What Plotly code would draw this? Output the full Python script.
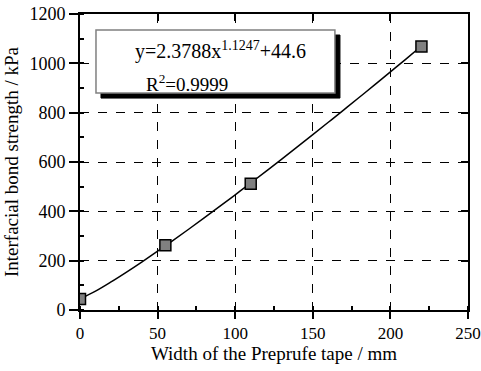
import plotly.graph_objects as go

# measured data
width_mm = [0, 55, 110, 220]
strength_kpa = [45, 263, 512, 1068]

fit_x = [0, 10, 20, 30, 40, 50, 60, 70, 80, 90, 100, 110, 120, 130, 140, 150,
         160, 170, 180, 190, 200, 210, 220]
fit_y = [44.6, 76.3, 113.7, 153.7, 195.3, 238.3, 282.4, 327.4, 373.3, 419.8,
         467.1, 514.8, 563.2, 612.0, 661.2, 710.9, 761.1, 811.6, 862.4, 913.6,
         965.2, 1017.3, 1070.1]

x_ticks = [0, 50, 100, 150, 200, 250]
y_ticks = [0, 200, 400, 600, 800, 1000, 1200]

FONT = "Liberation Serif"

fig = go.Figure()
fig.add_trace(go.Scatter(x=fit_x, y=fit_y, mode="lines", line=dict(color="black", width=1.5, shape="spline"),
                         showlegend=False, hoverinfo="skip"))
fig.add_trace(go.Scatter(x=width_mm, y=strength_kpa, mode="markers",
                         marker=dict(symbol="square", size=11, color="#808080",
                                     line=dict(color="black", width=1.5)),
                         showlegend=False))
# invisible trace to create mirror axes
fig.add_trace(go.Scatter(x=width_mm, y=strength_kpa, xaxis="x2", yaxis="y2", mode="markers",
                         marker=dict(opacity=0), showlegend=False, hoverinfo="skip"))

axis_common = dict(showline=True, linecolor="black", linewidth=2, zeroline=False, automargin=False)

fig.update_layout(
    width=481, height=371,
    margin=dict(l=80, r=13, t=14, b=61),
    plot_bgcolor="white", paper_bgcolor="white",
    font=dict(family=FONT, color="black", size=18),
    xaxis=dict(range=[0, 250], tickvals=x_ticks, ticks="outside", ticklen=7, tickwidth=2,
               tickcolor="black", showgrid=True, gridcolor="black", griddash="dash", gridwidth=1,
               minor=dict(ticks="inside", dtick=25, tick0=0, ticklen=4, tickwidth=2, tickcolor="black", showgrid=False),
               title=dict(text="Width of the Preprufe tape / mm", font=dict(size=19), standoff=4),
               tickfont=dict(size=17), ticklabeloverflow="allow", **axis_common),
    yaxis=dict(range=[0, 1200], tickvals=y_ticks, ticks="outside", ticklen=9, tickwidth=2,
               tickcolor="black", showgrid=True, gridcolor="black", griddash="dash", gridwidth=1,
               minor=dict(ticks="inside", dtick=100, tick0=0, ticklen=4, tickwidth=2, tickcolor="black", showgrid=False),
               title=dict(text="Interfacial bond strength / kPa", font=dict(size=19), standoff=6),
               tickfont=dict(size=18), ticklabeloverflow="allow", **axis_common),
    xaxis2=dict(range=[0, 250], tickvals=x_ticks, overlaying="x", side="top", ticks="inside", ticklen=7,
                tickwidth=2, tickcolor="black", showticklabels=False, showgrid=False, **axis_common),
    yaxis2=dict(range=[0, 1200], tickvals=y_ticks, overlaying="y", side="right", ticks="inside", ticklen=7,
                tickwidth=2, tickcolor="black", showticklabels=False, showgrid=False, **axis_common),
)

# text box with shadow (paper coordinates)
fig.add_shape(type="rect", xref="paper", yref="paper", x0=0.0541, x1=0.670, y0=0.716, y1=0.929,
              fillcolor="black", line=dict(color="black", width=1), layer="above")
fig.add_shape(type="rect", xref="paper", yref="paper", x0=0.0412, x1=0.657, y0=0.733, y1=0.946,
              fillcolor="white", line=dict(color="#808080", width=1.5), layer="above")
fig.add_annotation(xref="paper", yref="paper", x=0.363, y=0.878, showarrow=False,
                   text="y=2.3788x<sup>1.1247</sup>+44.6", font=dict(size=20), xanchor="center", yanchor="middle")
fig.add_annotation(xref="paper", yref="paper", x=0.276, y=0.767, showarrow=False,
                   text="R<sup>2</sup>=0.9999", font=dict(size=19), xanchor="center", yanchor="middle")

# remove the default page margin so the figure sits at the window's top-left corner
fig.write_html("out.html", config={"displayModeBar": False},
               post_script="document.body.style.margin='0';")
